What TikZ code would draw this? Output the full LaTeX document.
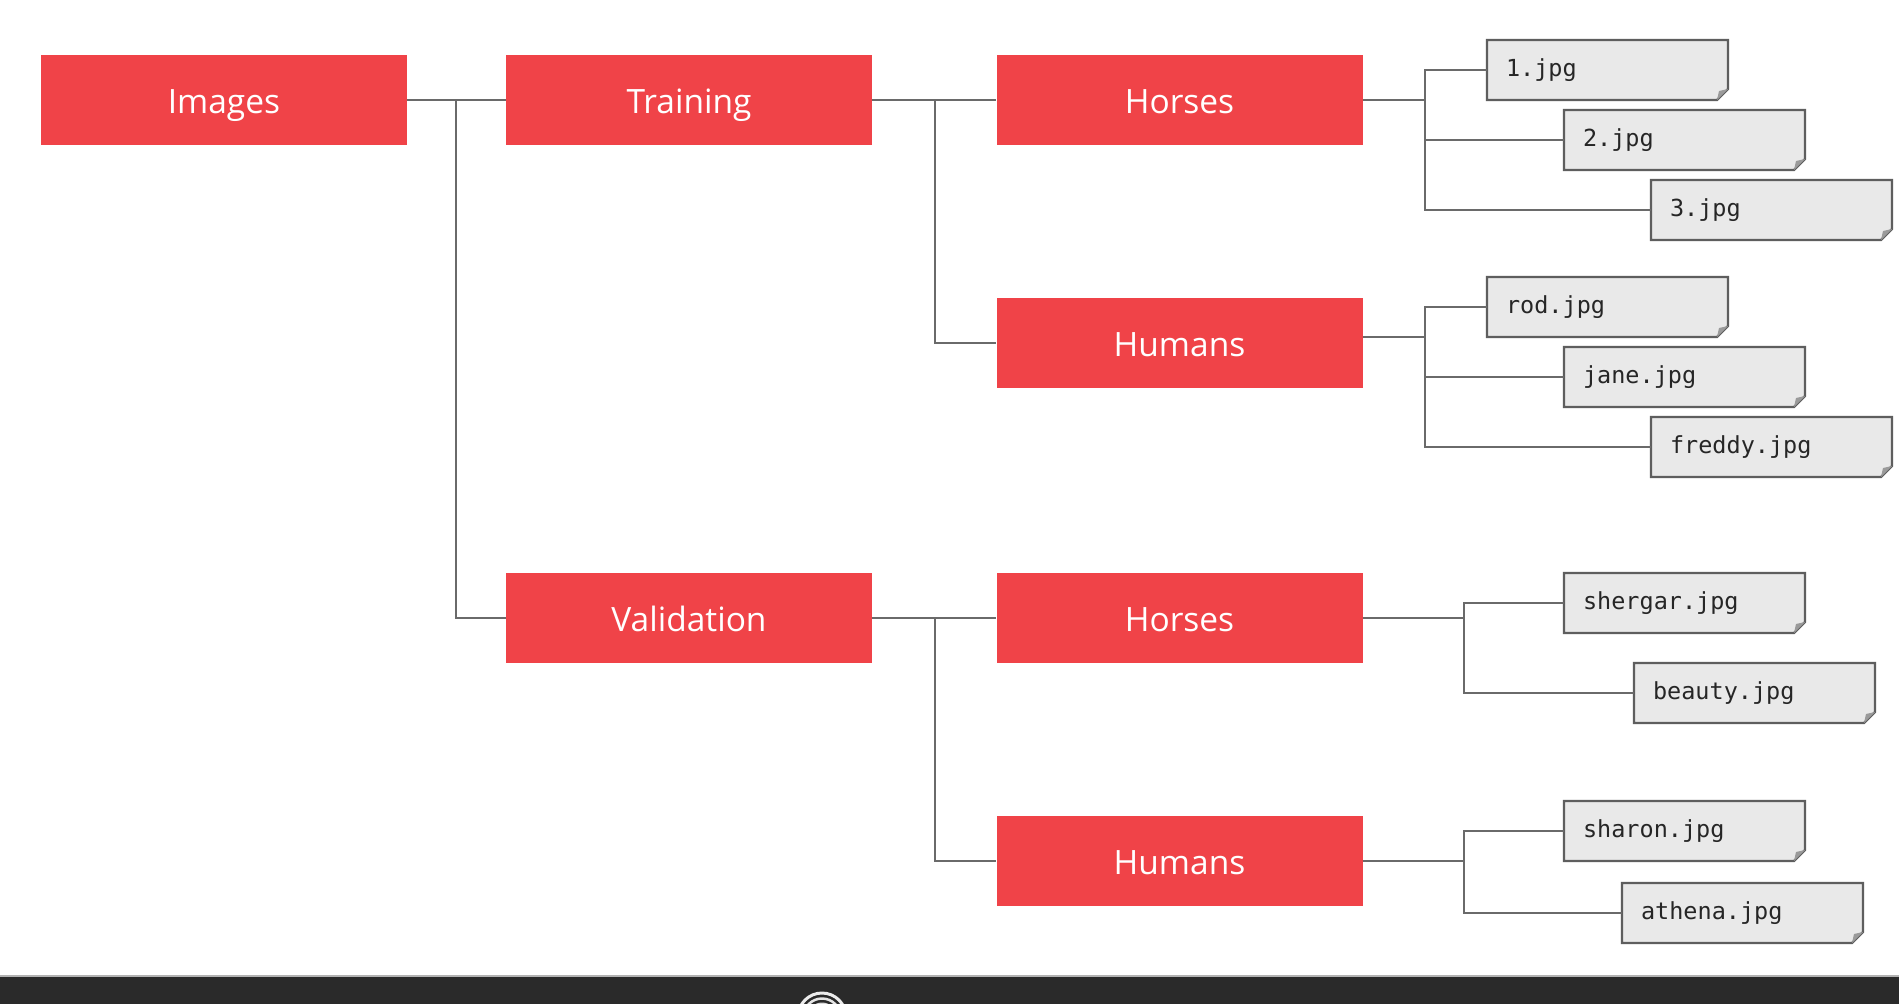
\documentclass[tikz,border=0pt]{standalone}
\usepackage{fontspec}
\setmainfont{Open Sans}
\newfontfamily\filemono{DejaVu Sans Mono}
\definecolor{boxred}{HTML}{F04348}
\definecolor{connc}{HTML}{6A6A6A}
\definecolor{filefill}{HTML}{E9E9E9}
\definecolor{fileedge}{HTML}{5E5E5E}
\definecolor{foldc}{HTML}{9A9A9A}
\definecolor{barc}{HTML}{2A2A2A}
\newcommand\filebox[4]{%
  \filldraw[fill=filefill, draw=fileedge, line width=2.4pt, line join=miter]
    (#2,#3-30) -- (#2+241,#3-30) -- (#2+241,#3+19) -- (#2+230,#3+30) -- (#2,#3+30) -- cycle;
  \fill[foldc] (#2+241,#3+19) -- (#2+230,#3+30) -- (#2+232,#3+21) -- cycle;
  \node[filetext] (#1) at (#2+120.5,#3) {#4};
}
\begin{document}
\begin{tikzpicture}[x=1pt,y=-1pt,
  redbox/.style={fill=boxred, draw=none, minimum width=366pt, minimum height=90pt,
    inner sep=0pt, text=white, text height=27pt, text depth=0pt,
    font=\fontsize{33.5}{36}\selectfont},
  filetext/.style={minimum width=241pt, minimum height=60pt, inner xsep=19pt, inner ysep=0pt,
    text width=203pt, align=left, text=black!85, font=\filemono\fontsize{23.5}{26}\selectfont},
  conn/.style={draw=connc, line width=2.2pt}]
\useasboundingbox (0,0) rectangle (1899,1004);
\fill[white] (0,0) rectangle (1899,1004);

% red boxes
\node[redbox] (img) at (224,100) {Images};
\node[redbox] (tr)  at (689,100) {Training};
\node[redbox] (val) at (689,618) {Validation};
\node[redbox] (hT)  at (1179.5,100) {Horses};
\node[redbox] (mT)  at (1179.5,343) {Humans};
\node[redbox] (hV)  at (1179.5,618) {Horses};
\node[redbox] (mV)  at (1179.5,861) {Humans};

% files
\filebox{f1}{1487}{70}{1.jpg}
\filebox{f2}{1564}{140}{2.jpg}
\filebox{f3}{1651}{210}{3.jpg}
\filebox{frod}{1487}{307}{rod.jpg}
\filebox{fjane}{1564}{377}{jane.jpg}
\filebox{ffred}{1651}{447}{freddy.jpg}
\filebox{fsher}{1564}{603}{shergar.jpg}
\filebox{fbeau}{1634}{693}{beauty.jpg}
\filebox{fshar}{1564}{831}{sharon.jpg}
\filebox{fathe}{1622}{913}{athena.jpg}

% junctions
\coordinate (jI)  at (456,100);
\coordinate (jT)  at (935,100);
\coordinate (jV)  at (935,618);
\coordinate (jHT) at (1425,100);
\coordinate (jMT) at (1425,337);
\coordinate (jHV) at (1464,618);
\coordinate (jMV) at (1464,861);

% connectors
\draw[conn] (img.east) -- (tr.west);
\draw[conn] (jI) |- (val.west);
\draw[conn] (tr.east) -- (hT.west);
\draw[conn] (jT) |- (mT.west);
\draw[conn] (val.east) -- (hV.west);
\draw[conn] (jV) |- (mV.west);

\draw[conn] (hT.east) -- (jHT);
\draw[conn] (f1.west) -| (jHT) |- (f3.west);
\draw[conn] (f2.west) -- (f2.west -| jHT);

\draw[conn] (mT.east |- jMT) -- (jMT);
\draw[conn] (frod.west) -| (jMT) |- (ffred.west);
\draw[conn] (fjane.west) -- (fjane.west -| jMT);

\draw[conn] (hV.east) -- (jHV);
\draw[conn] (fsher.west) -| (jHV) |- (fbeau.west);

\draw[conn] (mV.east) -- (jMV);
\draw[conn] (fshar.west) -| (jMV) |- (fathe.west);

% bottom bar
\fill[barc] (0,976) rectangle (1899,1004);
\draw[gray!60, line width=2pt] (0,976) -- (1899,976);
\begin{scope}
  \clip (0,978) rectangle (1899,1004);
  \draw[white!85!gray, line width=3pt] (822,1017) circle[radius=24];
  \draw[white!80!gray, line width=2.5pt] (822,1017) circle[radius=18.5];
  \draw[white!70!gray, line width=2pt] (822,1017) circle[radius=13.5];
\end{scope}
\end{tikzpicture}
\end{document}
